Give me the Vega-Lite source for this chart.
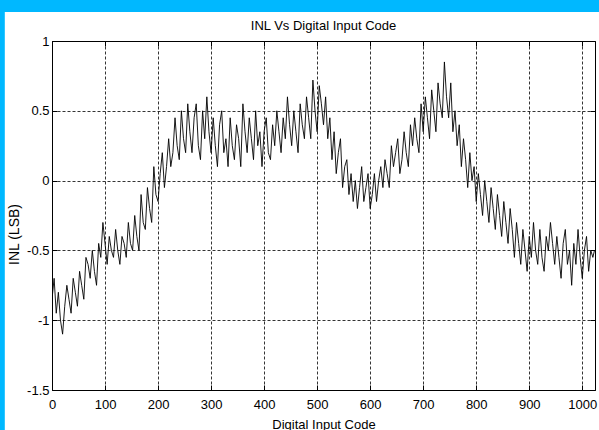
{
  "$schema": "https://vega.github.io/schema/vega-lite/v6.json",
  "width": 543,
  "height": 349,
  "autosize": {"type": "none"},
  "padding": {"left": 52, "top": 41, "right": 4, "bottom": 40},
  "background": "white",
  "title": {"text": "INL Vs Digital Input Code", "font": "Liberation Sans", "fontSize": 13, "fontWeight": "normal", "color": "black", "offset": 0, "dy": 43, "baseline": "alphabetic", "anchor": "middle"},
  "config": {
    "view": {"stroke": null},
    "axis": {
      "zindex": 1,
      "domainColor": "black",
      "domainWidth": 1,
      "tickColor": "black",
      "tickSize": -5,
      "tickWidth": 1,
      "labelFont": "Liberation Sans",
      "labelFontSize": 13,
      "labelColor": "black",
      "titleFont": "Liberation Sans",
      "titleFontSize": 13,
      "titleFontWeight": "normal",
      "titleColor": "black",
      "gridColor": "black",
      "gridOpacity": 1,
      "gridDash": [3, 2],
      "gridWidth": 0.8
    }
  },
  "resolve": {"axis": {"x": "independent", "y": "independent"}},
  "layer": [
    {
      "data": {"values": [{}]},
      "mark": {"type": "rect", "color": "#00B8FF", "clip": false},
      "encoding": {
        "x": {"datum": -100, "type": "quantitative", "scale": {"domain": [0, 1024], "nice": false, "zero": false},
          "axis": {"orient": "top", "values": [0,100,200,300,400,500,600,700,800,900,1000], "labels": false, "grid": false, "title": null}},
        "x2": {"datum": 1100},
        "y": {"datum": 1.208, "type": "quantitative", "scale": {"domain": [-1.5, 1], "nice": false, "zero": false},
          "axis": {"orient": "right", "values": [-1.5,-1,-0.5,0,0.5,1], "labels": false, "grid": false, "title": null}},
        "y2": {"datum": 1.295}
      }
    },
    {
      "data": {"values": [{}]},
      "mark": {"type": "rect", "color": "#00B8FF", "clip": false},
      "encoding": {
        "x": {"datum": -100, "type": "quantitative", "scale": {"domain": [0, 1024], "nice": false, "zero": false}, "axis": null},
        "x2": {"datum": -89},
        "y": {"datum": -1.8, "type": "quantitative", "scale": {"domain": [-1.5, 1], "nice": false, "zero": false}, "axis": null},
        "y2": {"datum": 1.295}
      }
    },
    {
      "data": {"values": [
        {"c":0,"v":-0.85},{"c":4,"v":-0.7},{"c":8,"v":-0.95},{"c":12,"v":-0.8},{"c":16,"v":-1.0},
        {"c":20,"v":-1.1},{"c":24,"v":-0.9},{"c":28,"v":-0.75},{"c":32,"v":-0.85},{"c":36,"v":-0.95},
        {"c":40,"v":-0.7},{"c":44,"v":-0.8},{"c":48,"v":-0.9},{"c":52,"v":-0.65},{"c":56,"v":-0.75},
        {"c":60,"v":-0.85},{"c":64,"v":-0.55},{"c":68,"v":-0.6},{"c":72,"v":-0.7},{"c":76,"v":-0.5},
        {"c":80,"v":-0.65},{"c":84,"v":-0.75},{"c":88,"v":-0.45},{"c":92,"v":-0.55},{"c":96,"v":-0.3},
        {"c":100,"v":-0.45},{"c":104,"v":-0.6},{"c":108,"v":-0.4},{"c":112,"v":-0.5},{"c":116,"v":-0.55},
        {"c":120,"v":-0.35},{"c":124,"v":-0.5},{"c":128,"v":-0.6},{"c":132,"v":-0.4},{"c":136,"v":-0.45},
        {"c":140,"v":-0.55},{"c":144,"v":-0.3},{"c":148,"v":-0.45},{"c":152,"v":-0.5},{"c":156,"v":-0.25},
        {"c":160,"v":-0.4},{"c":164,"v":-0.5},{"c":168,"v":-0.1},{"c":172,"v":-0.3},{"c":176,"v":-0.35},
        {"c":180,"v":-0.05},{"c":184,"v":-0.2},{"c":188,"v":-0.3},{"c":192,"v":0.1},{"c":196,"v":-0.1},
        {"c":200,"v":-0.15},{"c":204,"v":0.05},{"c":208,"v":0.2},{"c":212,"v":-0.05},{"c":216,"v":0.1},
        {"c":220,"v":0.3},{"c":224,"v":0.1},{"c":228,"v":0.2},{"c":232,"v":0.45},{"c":236,"v":0.25},
        {"c":240,"v":0.15},{"c":244,"v":0.5},{"c":248,"v":0.3},{"c":252,"v":0.2},{"c":256,"v":0.55},
        {"c":260,"v":0.35},{"c":264,"v":0.2},{"c":268,"v":0.45},{"c":272,"v":0.55},{"c":276,"v":0.25},
        {"c":280,"v":0.15},{"c":284,"v":0.5},{"c":288,"v":0.3},{"c":292,"v":0.6},{"c":296,"v":0.35},
        {"c":300,"v":0.2},{"c":304,"v":0.45},{"c":308,"v":0.25},{"c":312,"v":0.1},{"c":316,"v":0.4},
        {"c":320,"v":0.5},{"c":324,"v":0.2},{"c":328,"v":0.3},{"c":332,"v":0.1},{"c":336,"v":0.45},
        {"c":340,"v":0.25},{"c":344,"v":0.15},{"c":348,"v":0.4},{"c":352,"v":0.3},{"c":356,"v":0.1},
        {"c":360,"v":0.55},{"c":364,"v":0.35},{"c":368,"v":0.2},{"c":372,"v":0.45},{"c":376,"v":0.3},
        {"c":380,"v":0.15},{"c":384,"v":0.5},{"c":388,"v":0.25},{"c":392,"v":0.35},{"c":396,"v":0.1},
        {"c":400,"v":0.35},{"c":404,"v":0.45},{"c":408,"v":0.2},{"c":412,"v":0.15},{"c":416,"v":0.4},
        {"c":420,"v":0.25},{"c":424,"v":0.5},{"c":428,"v":0.35},{"c":432,"v":0.2},{"c":436,"v":0.45},
        {"c":440,"v":0.3},{"c":444,"v":0.6},{"c":448,"v":0.4},{"c":452,"v":0.25},{"c":456,"v":0.5},
        {"c":460,"v":0.35},{"c":464,"v":0.2},{"c":468,"v":0.55},{"c":472,"v":0.4},{"c":476,"v":0.3},
        {"c":480,"v":0.6},{"c":484,"v":0.45},{"c":488,"v":0.3},{"c":492,"v":0.72},{"c":496,"v":0.5},
        {"c":500,"v":0.35},{"c":504,"v":0.68},{"c":508,"v":0.55},{"c":512,"v":0.4},{"c":516,"v":0.6},
        {"c":520,"v":0.3},{"c":524,"v":0.45},{"c":528,"v":0.15},{"c":532,"v":0.35},{"c":536,"v":0.05},
        {"c":540,"v":0.2},{"c":544,"v":0.3},{"c":548,"v":-0.05},{"c":552,"v":0.1},{"c":556,"v":0.15},
        {"c":560,"v":-0.1},{"c":564,"v":0.05},{"c":568,"v":-0.15},{"c":572,"v":0.0},{"c":576,"v":-0.2},
        {"c":580,"v":-0.05},{"c":584,"v":0.1},{"c":588,"v":-0.15},{"c":592,"v":-0.05},{"c":596,"v":0.05},
        {"c":600,"v":-0.2},{"c":604,"v":-0.1},{"c":608,"v":0.05},{"c":612,"v":-0.15},{"c":616,"v":0.0},
        {"c":620,"v":0.1},{"c":624,"v":-0.05},{"c":628,"v":0.15},{"c":632,"v":0.05},{"c":636,"v":-0.05},
        {"c":640,"v":0.25},{"c":644,"v":0.1},{"c":648,"v":0.2},{"c":652,"v":0.3},{"c":656,"v":0.05},
        {"c":660,"v":0.15},{"c":664,"v":0.35},{"c":668,"v":0.2},{"c":672,"v":0.1},{"c":676,"v":0.4},
        {"c":680,"v":0.25},{"c":684,"v":0.45},{"c":688,"v":0.3},{"c":692,"v":0.2},{"c":696,"v":0.55},
        {"c":700,"v":0.35},{"c":704,"v":0.6},{"c":708,"v":0.45},{"c":712,"v":0.3},{"c":716,"v":0.65},
        {"c":720,"v":0.5},{"c":724,"v":0.35},{"c":728,"v":0.7},{"c":732,"v":0.55},{"c":736,"v":0.45},
        {"c":740,"v":0.85},{"c":744,"v":0.6},{"c":748,"v":0.45},{"c":752,"v":0.7},{"c":756,"v":0.35},
        {"c":760,"v":0.5},{"c":764,"v":0.25},{"c":768,"v":0.4},{"c":772,"v":0.1},{"c":776,"v":0.3},
        {"c":780,"v":0.15},{"c":784,"v":-0.05},{"c":788,"v":0.2},{"c":792,"v":0.0},{"c":796,"v":0.1},
        {"c":800,"v":-0.15},{"c":804,"v":0.05},{"c":808,"v":-0.1},{"c":812,"v":-0.25},{"c":816,"v":0.0},
        {"c":820,"v":-0.15},{"c":824,"v":-0.3},{"c":828,"v":-0.05},{"c":832,"v":-0.2},{"c":836,"v":-0.35},
        {"c":840,"v":-0.1},{"c":844,"v":-0.25},{"c":848,"v":-0.4},{"c":852,"v":-0.15},{"c":856,"v":-0.3},
        {"c":860,"v":-0.45},{"c":864,"v":-0.2},{"c":868,"v":-0.35},{"c":872,"v":-0.55},{"c":876,"v":-0.3},
        {"c":880,"v":-0.45},{"c":884,"v":-0.6},{"c":888,"v":-0.35},{"c":892,"v":-0.5},{"c":896,"v":-0.65},
        {"c":900,"v":-0.4},{"c":904,"v":-0.55},{"c":908,"v":-0.3},{"c":912,"v":-0.5},{"c":916,"v":-0.6},
        {"c":920,"v":-0.35},{"c":924,"v":-0.55},{"c":928,"v":-0.65},{"c":932,"v":-0.4},{"c":936,"v":-0.5},
        {"c":940,"v":-0.3},{"c":944,"v":-0.45},{"c":948,"v":-0.6},{"c":952,"v":-0.4},{"c":956,"v":-0.55},
        {"c":960,"v":-0.7},{"c":964,"v":-0.45},{"c":968,"v":-0.35},{"c":972,"v":-0.6},{"c":976,"v":-0.5},
        {"c":980,"v":-0.75},{"c":984,"v":-0.45},{"c":988,"v":-0.6},{"c":992,"v":-0.35},{"c":996,"v":-0.55},
        {"c":1000,"v":-0.7},{"c":1004,"v":-0.5},{"c":1008,"v":-0.4},{"c":1012,"v":-0.65},{"c":1016,"v":-0.5},
        {"c":1020,"v":-0.55},{"c":1023,"v":-0.5}
      ]},
      "mark": {"type": "line", "color": "black", "strokeWidth": 0.9, "clip": true},
      "encoding": {
        "x": {"field": "c", "type": "quantitative", "scale": {"domain": [0, 1024], "nice": false, "zero": false},
          "axis": {"orient": "bottom", "values": [0,100,200,300,400,500,600,700,800,900,1000], "grid": true, "format": "d", "title": "Digital Input Code", "labelPadding": 13, "labelFlush": false, "titleY": 38, "titleBaseline": "alphabetic"}},
        "y": {"field": "v", "type": "quantitative", "scale": {"domain": [-1.5, 1], "nice": false, "zero": false},
          "axis": {"orient": "left", "values": [-1.5,-1,-0.5,0,0.5,1], "grid": true, "format": "~g", "labelExpr": "replace(datum.label, '\u2212', '-')", "labelPadding": 8, "title": "INL (LSB)", "titleFontSize": 14, "titleX": -38, "titleY": 193, "titleBaseline": "middle", "titleAngle": 270}}
      }
    }
  ]
}
